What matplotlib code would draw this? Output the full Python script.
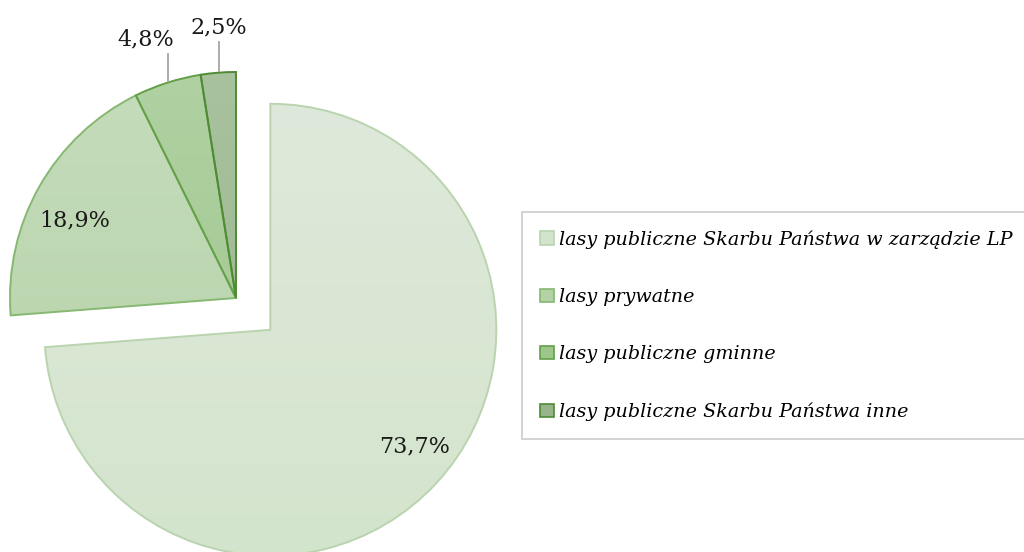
import matplotlib
matplotlib.use('Agg')
from matplotlib import pyplot as plt
from matplotlib.colors import LinearSegmentedColormap
from matplotlib.patches import Patch
import numpy as np

# forest ownership shares (%)
categories = ['lasy publiczne Skarbu Państwa w zarządzie LP',
              'lasy prywatne',
              'lasy publiczne gminne',
              'lasy publiczne Skarbu Państwa inne']
shares = [73.7, 18.9, 4.8, 2.5]
labels = ['73,7%', '18,9%', '4,8%', '2,5%']

# fill gradient (top, bottom) and outline for each slice
fill_top = ['#dfe9db', '#c6dcbc', '#b0d1a2', '#a8c29e']
fill_bot = ['#d3e4cc', '#b3d2a6', '#9dc68b', '#97b48b']
edges = ['#b9d4ae', '#86b872', '#63a048', '#4f8a36']

R = 226
explode = [0.207 * R, 0, 0, 0]   # pie takes explode in data units

plt.rcParams['font.family'] = ['DejaVu Serif']

fig = plt.figure(figsize=(10.24, 5.52), dpi=100)
ax = fig.add_axes([0, 0, 1, 1])

wedges, _ = ax.pie(shares, startangle=90, counterclock=False, center=(236, 254),
                   radius=R, explode=explode, normalize=True,
                   wedgeprops=dict(linewidth=1.4))

# vertical gradient inside every wedge
for w, top, bot, ec in zip(wedges, fill_top, fill_bot, edges):
    w.set_facecolor('none')
    w.set_edgecolor(ec)
    w.set_zorder(3)
    cx, cy = w.center
    cmap = LinearSegmentedColormap.from_list('g', [bot, top])
    grad = np.linspace(0, 1, 256).reshape(-1, 1)
    im = ax.imshow(grad, cmap=cmap, extent=(cx - w.r, cx + w.r, cy - w.r, cy + w.r),
                   origin='lower', aspect='auto', zorder=2)
    im.set_clip_path(w)

ax.set_xlim(0, 1024)
ax.set_ylim(0, 552)
ax.set_aspect('equal')
ax.axis('off')

# inside labels: (radius fraction, angle shift in degrees)
inside = {0: (0.82, 3.8), 1: (0.79, 4.0)}
for i, (rf, dth) in inside.items():
    w = wedges[i]
    a = np.deg2rad((w.theta1 + w.theta2) / 2 + dth)
    cx, cy = w.center
    ax.text(cx + rf * w.r * np.cos(a), cy + rf * w.r * np.sin(a), labels[i],
            ha='center', va='center', fontsize=16, color='#1a1a1a', zorder=5)

# outside labels with short vertical leader lines
outside = {2: (-22, 29), 3: (0, 31)}
for i, (tx, ln) in outside.items():
    w = wedges[i]
    a = np.deg2rad((w.theta1 + w.theta2) / 2)
    cx, cy = w.center
    px, py = cx + w.r * np.cos(a), cy + w.r * np.sin(a)
    px = round(px + 1)
    ax.plot([px, px], [py + 2, py + ln], color='#a6a6a6', lw=1.3, zorder=4)
    ax.text(px + tx, py + ln + 3, labels[i], ha='center', va='bottom',
            fontsize=16, color='#1a1a1a', zorder=5)

handles = [Patch(facecolor=t, edgecolor=e, linewidth=1.2)
           for t, e in zip(fill_bot, edges)]
leg = fig.legend(handles, categories, loc='upper left',
                 bbox_to_anchor=(522 / 1024, 1 - 212 / 552),
                 prop=dict(family='DejaVu Serif', style='italic', size=13.8),
                 handlelength=0.7, handleheight=0.7, handletextpad=0.3,
                 labelspacing=2.05, borderpad=0.95, borderaxespad=0,
                 frameon=True, fancybox=False)
leg.get_frame().set_edgecolor('#bfbfbf')
leg.get_frame().set_linewidth(1.2)
# frame top edge sits a little above the first entry
leg.get_frame().set_bounds(*leg.get_frame().get_bbox().bounds)

fig.savefig('out.png', dpi=100)
